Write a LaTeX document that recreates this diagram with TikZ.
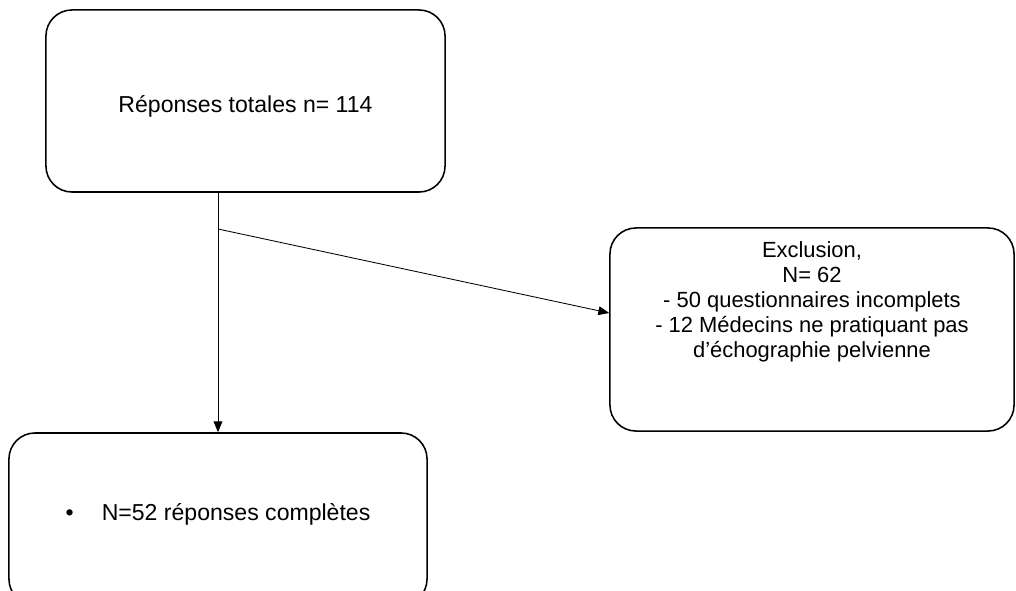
\documentclass[tikz,border=0pt]{standalone}
\usepackage{fontspec}
\setmainfont{Liberation Sans}
\usetikzlibrary{calc,arrows.meta}

\begin{document}
\begin{tikzpicture}[x=0.025cm,y=-0.025cm]
        %
        % `stage' is used for the rounded boxes.
        % `flow' is used for the connectors with a head.
        \tikzstyle{stage} = [draw,line width=1.1pt,rounded corners=0.65cm,align=center,inner sep=0pt]
        \tikzstyle{flow} = [line width=0.6pt,-{Triangle[length=0.27cm,width=0.22cm]}]
        %
        % Page
        \useasboundingbox (0,0) rectangle (1016,590);
        %
        % Top box
        \node[stage,minimum width=9.975cm,minimum height=4.55cm,
              text height=0.6cm,text depth=0.05cm,
              font=\fontsize{16.4}{19}\selectfont] (total) at (245.5,101)
              {Réponses totales n= 114};
        %
        % Right box
        \node[stage,minimum width=10.1cm,minimum height=5.075cm,
              text depth=1.5cm,
              font=\fontsize{15.6}{17.8}\selectfont] (excl) at (812,329.5)
              {Exclusion,\\ N= 62\\ - 50 questionnaires incomplets\\
               - 12 Médecins ne pratiquant pas\\ d’échographie pelvienne};
        %
        % Bottom box
        \node[stage,minimum width=10.45cm,minimum height=4.3cm,
              text height=0.43cm,text depth=0.37cm,
              font=\fontsize{16.4}{19}\selectfont] (compl) at (218,519)
              {•\hspace{20pt}N=52 réponses complètes};
        %
        % Connectors
        \coordinate (split) at (218,229);
        \draw[flow] (total.south -| compl.north) -- (compl.north);
        \draw[flow] (split) -- ($(excl.west)+(0,-16.5)$);
        %
\end{tikzpicture}
\end{document}
